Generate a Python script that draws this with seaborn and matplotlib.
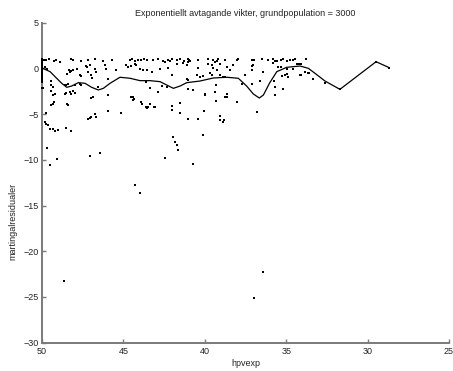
import numpy as np
import pandas as pd
import matplotlib
matplotlib.use("Agg")
import matplotlib.pyplot as plt
import seaborn as sns

# Martingale residuals against hpvexp, grouped by area of the plot
edge_x = [50.0] * 27
edge_y = [1.0, 0.9, 0.8, 0.7, 0.6, 0.5, 0.4, 0.3, 0.2, 0.1, 0.0, -0.1, -0.2,
          -0.3, -0.4, -0.5, -0.6, -0.7, -0.8, -0.9, -1.0, -1.1, -1.2, -1.3,
          -1.4, -1.5, -2.1]

top_x = [49.88, 49.73, 49.57, 49.28, 49.12, 48.2, 48.1, 47.6, 47.2, 46.77,
         46.25, 45.7, 44.62, 44.45, 44.31, 44.1, 43.9, 43.74, 43.57, 43.16,
         42.85, 42.55, 42.28, 42.04, 41.73, 41.52, 41.26, 41.01, 40.97, 40.91,
         40.4, 39.78, 39.48, 39.27, 39.17, 38.76, 38.04, 37.94, 37.12, 36.98,
         36.51, 36.1, 35.79, 35.55, 35.34, 35.18, 34.77, 34.6, 34.46, 33.78]
top_y = [0.95, 0.9, 0.98, 0.85, 0.95, 0.98, 0.9, 0.85, 0.95, 1.0,
         0.8, 0.95, 0.9, 0.98, 0.85, 0.95, 0.9, 1.0, 0.95, 0.9,
         1.0, 0.85, 0.95, 1.0, 0.9, 0.98, 0.85, 1.0, 0.9, 0.8,
         0.95, 1.0, 0.9, 0.85, 0.98, 0.95, 0.9, 1.0, 0.95, 0.9,
         1.0, 0.95, 0.98, 0.85, 0.95, 1.0, 0.95, 0.9, 1.0, 0.98]

upper_x = [49.8, 49.67, 48.9, 48.36, 48.3, 48.2, 48.1, 48.45, 47.83, 47.69,
           47.58, 47.32, 47.22, 47.07, 47.18, 46.97, 46.93, 46.77, 46.66, 46.15,
           46.05, 45.95, 45.43, 44.82, 44.72, 44.51, 44.31, 44.21, 44.0, 43.8,
           43.6, 43.57, 43.26, 42.75, 42.24, 41.11, 40.4, 39.48, 39.27, 38.66,
           38.45, 38.86, 37.53, 39.68, 39.58, 40.5, 40.3, 40.09, 39.07, 38.76,
           42.04, 41.11, 41.01, 42.44, 42.14, 41.73, 41.32, 41.01, 39.78, 39.58,
           39.37, 39.07, 38.25, 37.12, 37.06, 37.12, 35.79, 35.69, 34.97, 34.25,
           34.11, 35.48, 35.34, 34.97, 34.56, 36.4, 33.84, 33.58, 35.28, 35.07,
           34.93, 34.87, 34.15, 33.64, 34.36, 34.17, 33.37, 34.09]
upper_y = [0.15, -0.03, 0.7, -0.21, -0.39, -0.32, -0.21, -0.58, -0.03, -0.76,
           -0.83, 0.26, 0.15, 0.33, -0.39, -0.76, -1.05, -0.1, -0.39, 0.33,
           -0.03, -1.12, -0.21, 0.41, 0.15, 0.26, 0.52, 0.33, -0.03, -0.21,
           -1.49, -0.21, -0.39, -0.03, 0.04, 0.33, 0.04, 0.04, -0.21, 0.15,
           -0.21, -0.94, -0.76, -0.47, -0.69, -0.76, -0.94, -0.83, -0.69, -0.94,
           -0.69, -1.12, -1.31, 0.7, 0.77, 0.52, 0.63, 0.7, 0.52, 0.33,
           0.7, 0.52, 0.33, 0.26, 0.33, -0.21, 0.63, 0.77, 0.77, 0.52,
           0.52, 0.15, 0.15, -0.03, -0.1, -0.39, -0.39, -0.47, -0.83, -0.76,
           -0.58, -0.94, -0.76, -0.47, 0.48, 0.45, -1.2, -0.72]

middle_x = [49.94, 49.43, 49.47, 49.33, 49.43, 49.22, 49.33, 48.61, 48.5, 48.4,
            48.61, 48.5, 48.3, 48.2, 48.1, 48.0, 47.95, 47.69, 47.58, 46.56,
            46.97, 46.87, 45.95, 44.51, 44.41, 43.9, 43.6, 43.37, 42.65, 42.34,
            42.85, 41.01, 40.7, 39.99, 39.37, 39.31, 38.66, 38.76, 37.12, 37.74,
            38.04, 36.61, 37.12, 35.75, 35.69, 35.22, 35.69, 32.62, 31.7, 29.48,
            28.67, 44.43, 44.35, 39.99, 38.65, 38.65, 39.37]
middle_y = [-2.14, -1.42, -1.85, -2.03, -2.51, -2.76, -2.95, -1.85, -1.78, -1.67,
            -2.76, -2.65, -2.58, -2.76, -2.51, -2.65, -1.85, -1.67, -1.85, -2.03,
            -3.24, -3.13, -2.95, -3.13, -3.49, -3.68, -4.22, -2.14, -1.93, -2.03,
            -2.58, -2.22, -2.4, -2.87, -2.58, -1.78, -2.76, -3.13, -1.67, -1.67,
            -3.68, -1.42, -1.67, -1.42, -2.03, -2.29, -2.95, -1.63, -2.29, 0.73,
            0.08, -3.1, -3.39, -2.8, -2.8, -3.1, -2.55]

lower_x = [49.33, 49.43, 49.73, 48.4, 47.18, 47.07, 46.97, 46.77, 46.66, 45.95,
           45.13, 49.84, 49.73, 49.63, 49.53, 49.33, 49.22, 49.02, 48.5, 48.2,
           43.37, 43.57, 43.06, 42.04, 42.0, 41.52, 41.52, 40.03, 39.33, 41.01,
           39.07, 38.8, 36.77, 40.05, 40.44, 39.07, 38.86, 48.48, 49.3, 49.24,
           43.51, 43.1, 43.88, 45.93, 45.15]
lower_y = [-3.86, -4.04, -4.84, -3.97, -5.5, -5.43, -5.35, -4.95, -5.32, -4.7,
           -4.84, -5.86, -6.05, -6.23, -6.59, -6.67, -6.81, -6.78, -6.52, -6.81,
           -3.86, -4.33, -4.22, -4.11, -4.59, -3.75, -4.84, -4.7, -3.6, -5.57,
           -5.21, -5.68, -4.77, -4.66, -5.57, -5.65, -5.83, -3.93, -3.93, -3.64,
           -4.26, -4.19, -3.9, -4.63, -4.84]

deep_x = [46.44, 47.05, 49.71, 49.1, 49.5, 42.44, 40.74, 41.97, 41.83, 41.73,
          41.63, 40.13, 44.27, 43.98, 48.65, 36.41, 36.98]
deep_y = [-9.26, -9.58, -8.74, -9.95, -10.57, -9.84, -10.46, -7.47, -8.02, -8.38,
          -8.93, -7.29, -12.76, -13.67, -23.3, -22.31, -25.09]

# Smoothed residual curve
curve_x = [49.96, 49.5, 49.1, 48.79, 48.48, 48.18, 47.77, 47.36, 46.95, 46.54,
           46.23, 45.82, 45.21, 44.59, 43.98, 43.37, 42.75, 42.34, 41.93, 41.52,
           41.11, 40.29, 39.48, 38.65, 37.94, 37.43, 37.02, 36.65, 36.4, 36.03,
           35.58, 34.97, 34.15, 33.64, 33.23, 32.62, 31.7, 29.48, 28.67]
curve_y = [0.01, -0.36, -1.08, -1.63, -2.07, -1.93, -1.56, -1.63, -2.07, -2.36,
           -2.18, -1.63, -0.97, -1.08, -1.34, -1.34, -1.45, -1.82, -2.18, -1.93,
           -1.56, -1.38, -1.05, -0.97, -1.08, -1.93, -2.8, -3.24, -2.91, -1.63,
           -0.36, 0.12, 0.26, 0.01, -0.54, -1.38, -2.29, 0.73, 0.08]

points = pd.DataFrame({
    "hpvexp": edge_x + top_x + upper_x + middle_x + lower_x + deep_x,
    "resid": edge_y + top_y + upper_y + middle_y + lower_y + deep_y,
})
curve = pd.DataFrame({"hpvexp": curve_x, "resid": curve_y})

sns.set_theme(style="white")
plt.rcParams["font.family"] = ["Liberation Sans", "DejaVu Sans"]

fig = plt.figure(figsize=(4.53, 3.71), dpi=100)
ax = fig.add_axes([42 / 453, 1 - 342.6 / 371, 407 / 453, 319.9 / 371])

sns.scatterplot(data=points, x="hpvexp", y="resid", ax=ax, color="black",
                marker="s", s=2.2, linewidth=0, clip_on=False, zorder=3)
sns.lineplot(data=curve, x="hpvexp", y="resid", ax=ax, color="black",
             linewidth=0.9, sort=False, estimator=None, zorder=4)

ax.set_xlim(50, 25)
ax.set_ylim(-30, 5)
ax.set_xticks([50, 45, 40, 35, 30, 25])
ax.set_yticks([5, 0, -5, -10, -15, -20, -25, -30])
ax.set_xticklabels(["50", "45", "40", "35", "30", "25"])
ax.set_yticklabels(["5", "0", "\u22125", "\u221210", "\u221215",
                    "\u221220", "\u221225", "\u221230"])

spine_color = "#7a7a7a"
for side in ["top", "right"]:
    ax.spines[side].set_visible(False)
for side in ["left", "bottom"]:
    ax.spines[side].set_color(spine_color)
    ax.spines[side].set_linewidth(1.4)

ax.tick_params(axis="both", which="major", bottom=True, left=True,
               direction="in", length=3, width=1.0,
               color=spine_color, labelsize=6.5, labelcolor="#222222")
ax.tick_params(axis="x", pad=3)
ax.tick_params(axis="y", pad=2.5)

ax.set_xlabel("hpvexp", fontsize=6.5, color="#222222")
ax.set_ylabel("martingalresidualer", fontsize=6.5, color="#222222")
ax.xaxis.set_label_coords(0.5, -0.051)
ax.yaxis.set_label_coords(-0.06, 0.378)
ax.text(0.5, 1.029, "Exponentiellt avtagande vikter, grundpopulation = 3000",
        transform=ax.transAxes, ha="center", va="center", fontsize=6.5,
        color="#222222")

fig.savefig("out.png", dpi=100, facecolor="white")
